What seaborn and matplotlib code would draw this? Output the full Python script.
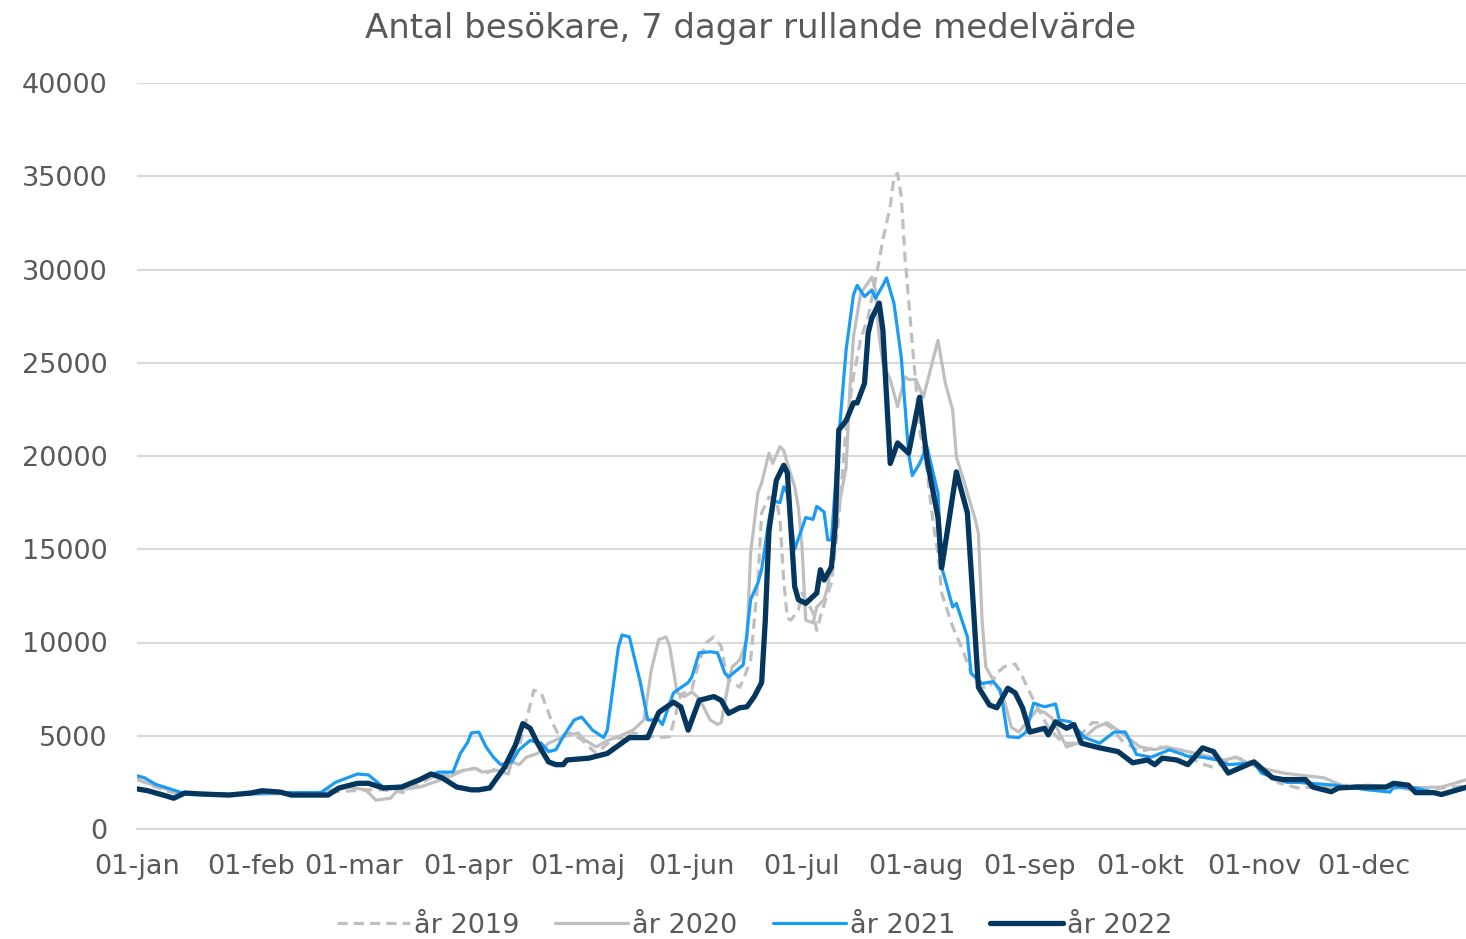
import matplotlib
matplotlib.use("Agg")
import matplotlib.pyplot as plt
import pandas as pd
import seaborn as sns

sns.set_style("white")
plt.rcParams['font.family'] = ['DejaVu Sans']

TEXT_COLOR = "#595959"
GRID_COLOR = "#D9D9D9"

month_starts = [0, 31, 59, 90, 120, 151, 181, 212, 243, 273, 304, 334]
month_labels = ["01-jan", "01-feb", "01-mar", "01-apr", "01-maj", "01-jun",
                "01-jul", "01-aug", "01-sep", "01-okt", "01-nov", "01-dec"]
y_ticks = [0, 5000, 10000, 15000, 20000, 25000, 30000, 35000, 40000]

# day of year (0 = 1 jan) and 7-day rolling mean of visitors
days_2019 = [0, 3, 8, 12, 20, 31, 45, 55, 62, 67, 73, 76, 80, 84, 89, 92, 95, 98, 101,
             104, 106, 108, 110, 113, 115, 118, 121, 123, 125, 127, 130, 133, 135, 139,
             142, 145, 148, 151, 153, 155, 157, 159, 160, 161, 164, 165, 167, 169, 170,
             172, 174, 175, 176, 177, 178, 180, 181, 184, 185, 186, 188, 189, 191, 193,
             195, 197, 199, 202, 203, 205, 206, 207, 208, 209, 210, 211, 212, 213, 215,
             216, 217, 218, 219, 222, 225, 227, 230, 232, 234, 236, 239, 241, 244, 248,
             252, 255, 258, 260, 263, 265, 268, 273, 278, 284, 289, 293, 299, 304, 311,
             316, 321, 330, 340, 350, 358, 362]
visitors_2019 = [2700, 2400, 2050, 1850, 1900, 1900, 1950, 2000, 2100, 2100, 1950, 2350,
                 2750, 2900, 3150, 3250, 3000, 3250, 3300, 4450, 5850, 7450, 7300, 5700,
                 4950, 5150, 4800, 4400, 4050, 4400, 4900, 4850, 5150, 5000, 4900, 4950,
                 7200, 7500, 9000, 10000, 10300, 9800, 8700, 8000, 7600, 8000, 9050, 13350,
                 16950, 17800, 17650, 16600, 13350, 11300, 11200, 11750, 12650, 11600,
                 10650, 11400, 12650, 13200, 16700, 21550, 24250, 26300, 27450, 30500,
                 31600, 33400, 34950, 35150, 33900, 30700, 28400, 26000, 23800, 21400,
                 19250, 17500, 16000, 14800, 12650, 10850, 9450, 8350, 7600, 7600, 8350,
                 8700, 8850, 8150, 6900, 5450, 4600, 4600, 5300, 5700, 5700, 5450, 4750,
                 4150, 4400, 4250, 3550, 3300, 3850, 3550, 2450, 2200, 2250, 2350, 2200,
                 2100, 2250, 2300]

days_2020 = [0, 3, 8, 12, 20, 31, 40, 50, 53, 58, 62, 63, 65, 69, 71, 77, 80, 85, 89, 92,
             94, 98, 101, 102, 104, 106, 109, 112, 116, 120, 122, 125, 128, 131, 135, 138,
             140, 142, 144, 145, 147, 149, 151, 153, 156, 158, 159, 161, 162, 164, 166,
             167, 169, 170, 172, 173, 175, 176, 177, 179, 180, 181, 182, 184, 185, 187,
             188, 190, 193, 194, 195, 197, 199, 200, 201, 202, 203, 205, 207, 209, 210,
             212, 214, 218, 220, 222, 223, 225, 226, 228, 229, 230, 231, 232, 236, 238,
             240, 245, 247, 249, 251, 253, 256, 258, 261, 264, 268, 273, 277, 280, 286,
             296, 299, 305, 312, 316, 323, 329, 335, 345, 355, 362]
visitors_2020 = [2650, 2450, 2150, 1950, 1900, 1850, 1900, 1950, 2100, 2250, 2100, 1950,
                 1550, 1650, 2100, 2250, 2450, 2800, 3150, 3250, 3050, 3150, 2950, 3600,
                 3450, 3850, 4050, 4600, 4950, 5150, 4750, 4400, 4750, 4950, 5300, 5850,
                 8550, 10150, 10300, 9750, 7300, 7100, 7350, 7000, 5850, 5600, 5700, 7850,
                 8700, 9050, 10150, 14800, 18050, 18550, 20150, 19600, 20500, 20300, 19600,
                 18350, 17250, 15100, 11200, 11050, 11900, 12300, 13000, 16200, 19400,
                 23550, 26400, 28750, 29300, 29600, 28900, 26400, 25000, 24100, 22650,
                 24250, 24100, 24100, 23150, 26200, 23900, 22450, 19950, 18700, 18000,
                 16700, 15850, 11200, 8700, 8350, 6900, 5450, 5200, 6400, 6250, 5950, 5150,
                 4400, 4600, 4950, 5450, 5700, 5150, 4400, 4250, 4400, 4150, 3700, 3850,
                 3300, 3000, 2900, 2750, 2250, 2350, 2200, 2250, 2650]

days_2021 = [0, 2, 5, 9, 12, 17, 25, 31, 40, 50, 54, 60, 63, 67, 72, 77, 82, 86, 88, 90,
             91, 93, 95, 97, 99, 102, 104, 107, 110, 112, 114, 116, 119, 121, 124, 127,
             128, 131, 132, 134, 137, 139, 142, 143, 146, 150, 151, 153, 156, 158, 160,
             161, 165, 166, 167, 169, 170, 172, 173, 175, 176, 177, 179, 182, 184, 185,
             187, 188, 189, 191, 193, 195, 196, 198, 200, 201, 203, 204, 206, 208, 210,
             211, 213, 215, 218, 219, 222, 223, 226, 227, 230, 233, 235, 237, 240, 242,
             244, 247, 250, 251, 254, 258, 262, 266, 269, 272, 276, 281, 286, 290, 294,
             297, 304, 306, 313, 316, 326, 335, 341, 342, 348, 355, 362]
visitors_2021 = [2850, 2750, 2400, 2150, 1950, 1900, 1850, 1900, 1950, 1950, 2500, 2950,
                 2900, 2250, 2200, 2650, 3050, 3050, 4050, 4650, 5150, 5200, 4400, 3850,
                 3450, 3600, 4250, 4750, 4600, 4150, 4250, 4950, 5850, 6000, 5300, 4900,
                 5300, 9750, 10400, 10300, 7850, 5850, 5850, 5600, 7300, 7850, 8150, 9450,
                 9500, 9450, 8350, 8150, 8800, 10500, 12300, 13200, 13900, 16600, 17600,
                 17500, 18350, 18000, 15000, 16700, 16600, 17300, 17000, 15500, 15500,
                 21000, 25700, 28650, 29150, 28550, 28900, 28450, 29150, 29550, 28200,
                 25300, 20150, 18950, 19600, 20500, 18000, 14050, 11900, 12100, 10300,
                 8350, 7800, 7900, 7450, 4950, 4900, 5200, 6750, 6550, 6700, 5850, 5750,
                 4900, 4600, 5200, 5200, 4000, 3850, 4250, 3900, 3850, 3700, 3450, 3550,
                 3000, 2500, 2500, 2350, 2100, 1980, 2250, 2200, 1850, 2200]

days_2022 = [0, 3, 8, 10, 13, 17, 25, 31, 34, 39, 42, 52, 55, 60, 63, 67, 72, 77, 80, 83,
             87, 91, 93, 96, 100, 103, 105, 107, 109, 112, 114, 116, 117, 123, 128, 134,
             139, 142, 146, 148, 150, 153, 157, 159, 161, 164, 166, 168, 170, 171, 172,
             174, 176, 177, 179, 180, 182, 185, 186, 187, 189, 190, 191, 193, 195, 196,
             198, 199, 200, 202, 203, 205, 207, 210, 213, 215, 218, 219, 223, 226, 227,
             229, 232, 234, 237, 239, 241, 243, 247, 248, 250, 253, 255, 257, 262, 267,
             271, 275, 277, 279, 283, 286, 290, 293, 297, 304, 309, 312, 318, 320, 325,
             327, 332, 340, 342, 346, 348, 353, 355, 362]
visitors_2022 = [2150, 2050, 1770, 1650, 1930, 1880, 1820, 1930, 2050, 1980, 1820, 1820,
                 2200, 2450, 2450, 2200, 2250, 2650, 2950, 2750, 2250, 2100, 2100, 2200,
                 3300, 4500, 5650, 5400, 4600, 3600, 3450, 3450, 3700, 3800, 4050, 4900,
                 4900, 6250, 6800, 6550, 5300, 6900, 7100, 6900, 6200, 6500, 6550, 7100,
                 7850, 11200, 16000, 18700, 19500, 19100, 13000, 12300, 12100, 12650,
                 13900, 13350, 14050, 16200, 21400, 21900, 22850, 22850, 23900, 26600,
                 27400, 28200, 26750, 19600, 20700, 20150, 23150, 19800, 16700, 14000,
                 19150, 16950, 13900, 7600, 6650, 6500, 7550, 7300, 6500, 5200, 5400,
                 5050, 5750, 5400, 5600, 4600, 4350, 4150, 3550, 3700, 3450, 3800, 3700,
                 3450, 4350, 4150, 3000, 3600, 2750, 2650, 2650, 2250, 2000, 2200, 2250,
                 2250, 2450, 2350, 1950, 1950, 1850, 2250]

series = [
    ("år 2019", days_2019, visitors_2019, "#BFBFBF", 2.3, (0, (3.2, 1.9))),
    ("år 2020", days_2020, visitors_2020, "#BFBFBF", 2.3, "-"),
    ("år 2021", days_2021, visitors_2021, "#1B9CF2", 2.3, "-"),
    ("år 2022", days_2022, visitors_2022, "#04365E", 3.8, "-"),
]

fig = plt.figure(figsize=(14.66, 9.39), dpi=100)
ax = fig.add_axes([137 / 1466, 1 - 829 / 939, 1 - 137 / 1466, (829 - 83) / 939])

for name, days, vals, color, lw, ls in series:
    df = pd.DataFrame({"day": days, "visitors": vals})
    sns.lineplot(data=df, x="day", y="visitors", ax=ax, color=color, linewidth=lw,
                 linestyle=ls, label=name, estimator=None, sort=False,
                 solid_joinstyle="round", clip_on=True)

ax.set_xlim(0, 361.7)
ax.set_ylim(0, 40000)
ax.set_yticks(y_ticks)
ax.set_yticklabels([str(v) for v in y_ticks])
ax.set_xticks(month_starts)
ax.set_xticklabels(month_labels)
ax.set_xlabel("")
ax.set_ylabel("")

ax.yaxis.grid(True, color=GRID_COLOR, linewidth=1.5)
ax.set_axisbelow(True)
for side in ["top", "right", "left"]:
    ax.spines[side].set_visible(False)
ax.spines["bottom"].set_color(GRID_COLOR)
ax.spines["bottom"].set_linewidth(1.5)

ax.tick_params(axis="y", length=0, pad=21, labelsize=19.5, labelcolor=TEXT_COLOR)
ax.tick_params(axis="x", length=7, width=1.5, color=GRID_COLOR, pad=11,
               labelsize=19.5, labelcolor=TEXT_COLOR)

fig.text(0.512, 0.970, "Antal besökare, 7 dagar rullande medelvärde",
         ha="center", va="center", fontsize=24.5, color=TEXT_COLOR)

handles, labels = ax.get_legend_handles_labels()
ax.get_legend().remove()
fig.legend(handles, labels, loc="center", bbox_to_anchor=(0.515, 0.014), ncol=4,
           frameon=False, fontsize=19.5, labelcolor=TEXT_COLOR, handlelength=2.7,
           handletextpad=0.15, columnspacing=1.3)

fig.savefig("out.png", dpi=100)
